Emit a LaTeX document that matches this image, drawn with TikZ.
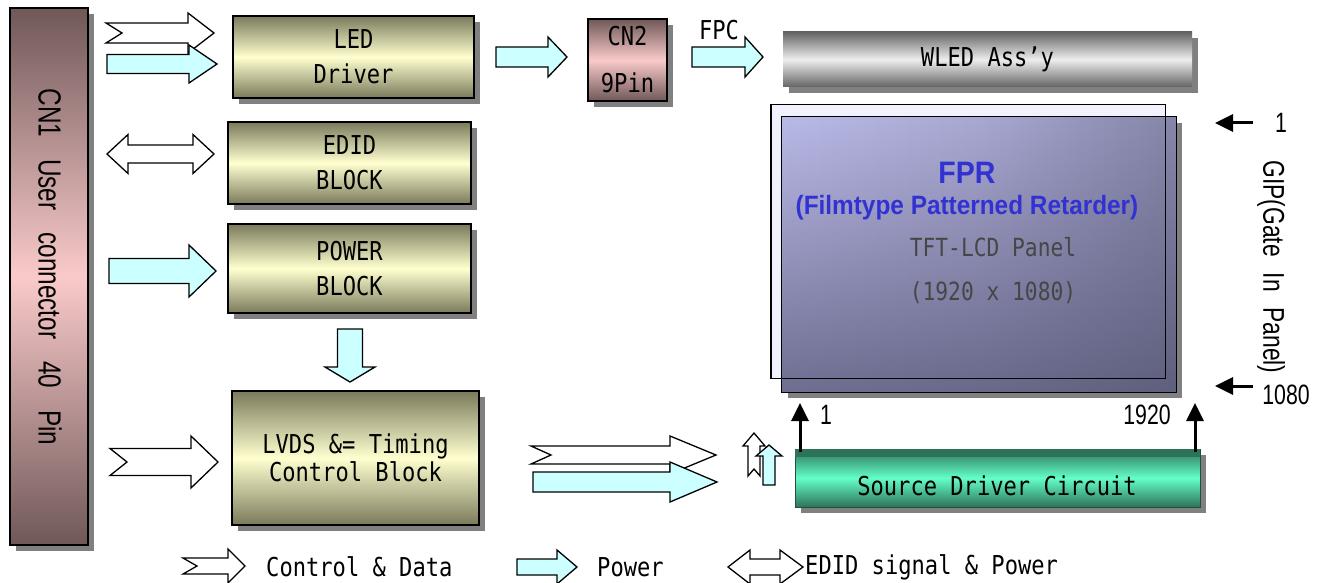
\documentclass[tikz,border=0pt]{standalone}
\usepackage{fontspec}
\usetikzlibrary{arrows.meta,shadows,shadings,fadings}
\newfontfamily\gul[FakeStretch=0.85]{DejaVu Sans Mono}
\newfontfamily\ari[FakeStretch=0.76]{Liberation Sans}
\newfontfamily\arib[FakeStretch=0.92]{Liberation Sans}
\definecolor{cyanF}{RGB}{204,255,255}
\definecolor{oliveD}{RGB}{122,122,92}
\definecolor{oliveL}{RGB}{255,255,208}
\definecolor{pinkD}{RGB}{112,88,88}
\definecolor{pinkL}{RGB}{250,202,202}
\definecolor{grayD}{RGB}{100,100,100}
\definecolor{grayL}{RGB}{238,238,238}
\definecolor{tealD}{RGB}{45,115,90}
\definecolor{tealL}{RGB}{100,255,200}
\definecolor{fprblue}{RGB}{50,50,210}
\definecolor{shd}{RGB}{128,128,128}
\definecolor{pL}{RGB}{204,204,254}
\definecolor{pM}{RGB}{168,168,210}
\definecolor{pR}{RGB}{100,100,130}
\definecolor{pDark}{RGB}{78,78,108}
\definecolor{backF}{RGB}{242,242,255}
\definecolor{txtgray}{RGB}{70,70,70}
\pgfdeclarehorizontalshading{panelH}{100bp}{color(0bp)=(pL); color(50bp)=(pM); color(100bp)=(pR)}
% right arrow: style, tail x, notch, head base x, tip x, yc, half shaft, half head
\newcommand{\RArr}[8]{\draw[#1] (#2,{#6-#7}) -- (#4,{#6-#7}) -- (#4,{#6-#8}) -- (#5,#6) -- (#4,{#6+#8}) -- (#4,{#6+#7}) -- (#2,{#6+#7}) -- ({#2+#3},#6) -- cycle;}
% vertical arrow: style, xc, half shaft, half head, tip y, head base y, tail y, notch
\newcommand{\UArr}[8]{\draw[#1] ({#2-#3},#7) -- ({#2-#3},#6) -- ({#2-#4},#6) -- (#2,#5) -- ({#2+#4},#6) -- ({#2+#3},#6) -- ({#2+#3},#7) -- (#2,{#7-#8}) -- cycle;}
% double arrow: style, left tip, left base, right base, right tip, yc, half shaft, half head
\newcommand{\DArr}[8]{\draw[#1] (#2,#6) -- (#3,{#6-#8}) -- (#3,{#6-#7}) -- (#4,{#6-#7}) -- (#4,{#6-#8}) -- (#5,#6) -- (#4,{#6+#8}) -- (#4,{#6+#7}) -- (#3,{#6+#7}) -- (#3,{#6+#8}) -- cycle;}
\tikzset{
  shadowbox/.style={drop shadow={shadow xshift=6pt,shadow yshift=-6pt,fill=shd,opacity=1}},
  olivebox/.style={draw=black,line width=1.2pt,top color=oliveD,bottom color=oliveD,middle color=oliveL,shadowbox,inner sep=0pt,align=center,font=\gul\fontsize{26}{35}\selectfont},
  pinkbox/.style={draw=black,line width=1.2pt,top color=pinkD,bottom color=pinkD,middle color=pinkL,shadowbox,inner sep=0pt},
  carr/.style={draw=black,line width=1.3pt,fill=white,line join=miter},
  parr/.style={draw=black,line width=1.3pt,fill=cyanF,line join=miter},
  conn/.style={line width=3pt,-{Triangle[length=18pt,width=17pt]}},
  gtxt/.style={font=\gul\fontsize{26}{30}\selectfont,inner sep=0pt},
  atxt/.style={font=\ari\fontsize{28}{30}\selectfont,inner sep=0pt},
}
\begin{document}
\begin{tikzpicture}[x=1pt,y=-1pt]
\useasboundingbox (0,0) rectangle (1322,583);
\fill[white] (0,0) rectangle (1322,583);
% CN1 connector
\node[pinkbox,minimum width=78pt,minimum height=537pt] (cn1) at (49,276.5) {};
\node[rotate=-90,font=\ari\fontsize{32}{34}\selectfont,inner sep=0pt] (cn1t) at (50,267) {CN1\hspace{22pt}User\hspace{22pt}connector\hspace{22pt}40\hspace{22pt}Pin};
% blocks
\node[olivebox,minimum width=241pt,minimum height=82pt] (led) at (353.5,57) {LED\\Driver};
\node[olivebox,minimum width=243pt,minimum height=82pt] (edid) at (349.5,163) {EDID\\BLOCK};
\node[olivebox,minimum width=243pt,minimum height=89pt] (pwr) at (349.5,268.5) {POWER\\BLOCK};
\node[olivebox,minimum width=247pt,minimum height=134pt,font=\gul\fontsize{26}{28}\selectfont] (lvds) at (355.5,458) {LVDS \&= Timing\\Control Block};
% CN2
\node[pinkbox,minimum width=79pt,minimum height=82pt,align=center,font=\gul\fontsize{26}{47}\selectfont] (cn2) at (627.5,60) {CN2\\9Pin};
% WLED
\node[draw=none,top color=grayD,bottom color=grayD,middle color=grayL,shadowbox,minimum width=409pt,minimum height=55pt,font=\gul\fontsize{26}{30}\selectfont] (wled) at (987.5,59.5) {WLED Ass’y};
% panel
\node[draw=black,line width=1pt,fill=backF,minimum width=394pt,minimum height=273pt,inner sep=0pt] (film) at (968,241.5) {};
\node[shading=panelH,shadowbox,minimum width=394pt,minimum height=275pt,inner sep=0pt] (panel) at (979,254.5) {};
\fill[pDark,opacity=0.7,path fading=north] (panel.south west) rectangle (panel.north east);
\draw[line width=1.3pt] (panel.south west) rectangle (panel.north east);
\draw[line width=1pt] (film.south west) rectangle (film.north east);
\node[font=\arib\bfseries\fontsize{31}{33}\selectfont,text=fprblue,inner sep=0pt] (fprt) at (967,173) {FPR};
\node[font=\arib\bfseries\fontsize{26.5}{28}\selectfont,text=fprblue,inner sep=0pt] (fprs) at (967,208) {(Filmtype Patterned Retarder)};
\node[font=\gul\fontsize{25}{28}\selectfont,text=txtgray,inner sep=0pt] (tft) at (993,247) {TFT-LCD Panel};
\node[font=\gul\fontsize{25}{28}\selectfont,text=txtgray,inner sep=0pt] (res) at (993,293) {(1920 x 1080)};
% source driver
\node[draw=tealD!70!black,line width=0.8pt,top color=tealD,bottom color=tealD,middle color=tealL,shadowbox,minimum width=405pt,minimum height=58pt,inner sep=0pt] (src) at (997.5,478) {};
\fill[tealD] (src.north west) rectangle ([yshift=-8pt]src.north east);
\node[gtxt] (srct) at (997,486) {Source Driver Circuit};
% GIP and panel connectors
\coordinate (g1s) at (1253,123);
\coordinate (g1e) at (1215,123);
\coordinate (g2s) at (1253,386);
\coordinate (g2e) at (1215,386);
\draw[conn] (g1s) -- (g1e);
\draw[conn] (g2s) -- (g2e);
\node[atxt] (n1) at (1281,123) {1};
\node[atxt] (n1080) at (1286,395) {1080};
\node[rotate=-90,font=\ari\fontsize{30}{32}\selectfont,inner sep=0pt] (gip) at (1271,267) {GIP(Gate\hspace{16pt}In\hspace{16pt}Panel)};
\coordinate (s1s) at (800,452);
\coordinate (s1e) at (800,403);
\coordinate (s2s) at (1195,452);
\coordinate (s2e) at (1195,403);
\draw[conn] (s1s) -- (s1e);
\draw[conn] (s2s) -- (s2e);
\node[atxt] (m1) at (826,415) {1};
\node[atxt] (m1920) at (1147,415) {1920};
% block arrows, top
\RArr{carr}{106}{16}{188}{214}{33}{10}{20}
\RArr{parr}{107}{0}{189}{217}{64}{9.5}{19}
\DArr{carr}{107}{128}{193}{214}{154}{9}{19.5}
\RArr{parr}{109}{0}{189}{216}{271}{12.5}{26}
\RArr{carr}{110}{17}{191}{218}{462}{13.5}{26}
\UArr{parr}{350}{12.5}{25}{382}{367}{329}{0}
\RArr{parr}{496}{0}{548}{567}{57}{10}{20}
\RArr{parr}{692}{0}{745}{763}{57}{10}{20}
\node[gtxt] (fpc) at (719,30) {FPC};
% arrows to source driver
\RArr{carr}{531}{20}{670}{716}{455}{9}{19}
\RArr{parr}{533}{0}{670}{717}{482}{10}{20}
\UArr{carr}{754}{6}{11}{433}{446}{476}{7}
\UArr{parr}{769}{6}{13}{445}{456}{485}{0}
% legend
\RArr{carr}{183}{14}{228}{245}{566}{8}{17}
\node[gtxt,anchor=west] (lg1) at (266,567) {Control \& Data};
\RArr{parr}{517}{0}{557}{577}{567}{8}{17}
\node[gtxt,anchor=west] (lg2) at (597,567) {Power};
\DArr{carr}{728}{750}{780}{803}{567}{8}{17}
\node[gtxt,anchor=west] (lg3) at (805,567) {EDID signal \& Power};
\end{tikzpicture}
\end{document}
